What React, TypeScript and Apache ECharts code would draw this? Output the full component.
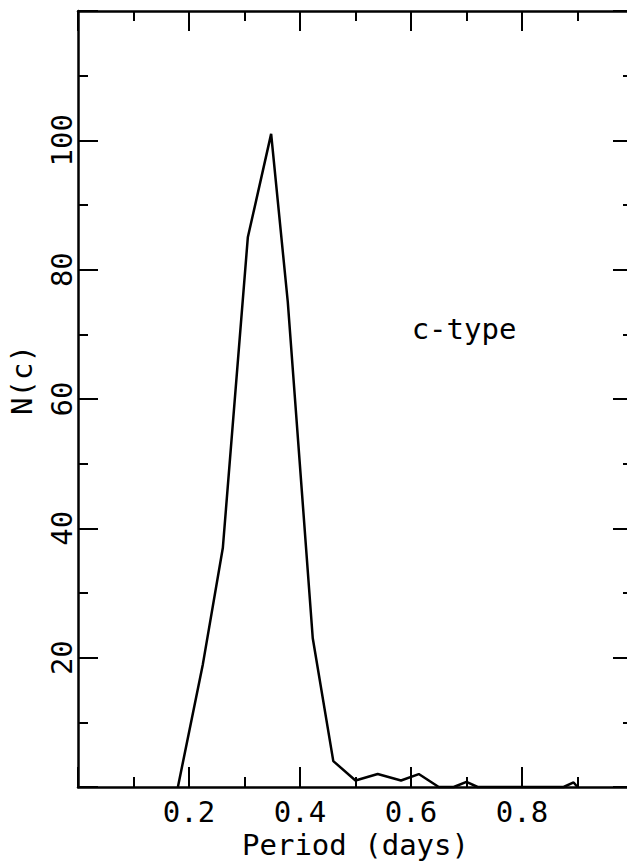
import React, { useEffect, useRef } from "react";
import * as echarts from "echarts";

const periods = [0.18, 0.225, 0.261, 0.306, 0.348, 0.378, 0.423, 0.46, 0.5, 0.54, 0.582, 0.614, 0.65, 0.677, 0.7, 0.72, 0.875, 0.893, 0.9];
const counts = [0, 19, 37, 85, 101, 75, 23, 4, 1, 2, 1, 2, 0, 0, 0.8, 0, 0, 0.7, 0];
const xTickLabels = ["0.2", "0.4", "0.6", "0.8"];
const yTickLabels = ["20", "40", "60", "80", "100"];
const xName = "Period (days)";
const yName = "N(c)";
const annotation = "c-type";

const FONT = "DejaVu Sans Mono";

export default function App() {
  const ref = useRef<HTMLDivElement>(null);
  useEffect(() => {
    if (!ref.current) return;
    const chart = echarts.init(ref.current, null, { renderer: "svg" });
    const lineStyle = { color: "#000", width: 2.5 };
    const tick = (len: number) => ({ show: true, inside: true, length: len, lineStyle: { color: "#000", width: 2 } });
    const minor = { show: true, splitNumber: 2, length: 10, lineStyle: { color: "#000", width: 2 } };
    const xLab = (v: number) => {
      const s = v.toFixed(1);
      return xTickLabels.includes(s) ? s : "";
    };
    const yLab = (v: number) => {
      const s = String(Math.round(v));
      return yTickLabels.includes(s) ? s : "";
    };
    const xBase = {
      type: "value", min: 0, max: 1, interval: 0.2,
      axisLine: { show: true, onZero: false, lineStyle },
      axisTick: tick(20), minorTick: minor, splitLine: { show: false },
    };
    const yBase = {
      type: "value", min: 0, max: 120, interval: 20,
      axisLine: { show: true, onZero: false, lineStyle },
      axisTick: tick(20), minorTick: minor, splitLine: { show: false },
    };
    chart.setOption({
      animation: false,
      backgroundColor: "#fff",
      grid: { left: 78, right: -6, top: 11, bottom: 75, containLabel: false, outerBoundsMode: "none" },
      xAxis: [
        {
          ...xBase, position: "bottom",
          name: xName, nameLocation: "middle", nameGap: 43,
          nameTextStyle: { fontFamily: FONT, fontSize: 29, color: "#000" },
          axisLabel: { show: true, formatter: xLab, margin: 10, fontFamily: FONT, fontSize: 29, color: "#000" },
        },
        { ...xBase, position: "top", axisLabel: { show: false } },
      ],
      yAxis: [
        {
          ...yBase, position: "left",
          axisLabel: { show: true, formatter: yLab, rotate: 90, margin: 2, fontFamily: FONT, fontSize: 29, color: "#000" },
        },
        { ...yBase, position: "right", axisLabel: { show: false } },
      ],
      graphic: [
        {
          type: "text", x: 22, y: 380, rotation: Math.PI / 2,
          style: { text: yName, fontFamily: FONT, fontSize: 29, fill: "#000", align: "center", verticalAlign: "middle" },
        },
        {
          type: "text", x: 464, y: 329,
          style: { text: annotation, fontFamily: FONT, fontSize: 29, fill: "#000", align: "center", verticalAlign: "middle" },
        },
      ],
      series: [
        {
          type: "line",
          xAxisIndex: 0, yAxisIndex: 0,
          data: periods.map((p, i) => [p, counts[i]]),
          showSymbol: false,
          symbol: "none",
          lineStyle: { color: "#000", width: 2.5 },
          clip: false,
        },
      ],
    });
    return () => chart.dispose();
  }, []);
  return <div ref={ref} style={{ position: "fixed", left: 0, top: 0, width: 627, height: 862 }} />;
}
